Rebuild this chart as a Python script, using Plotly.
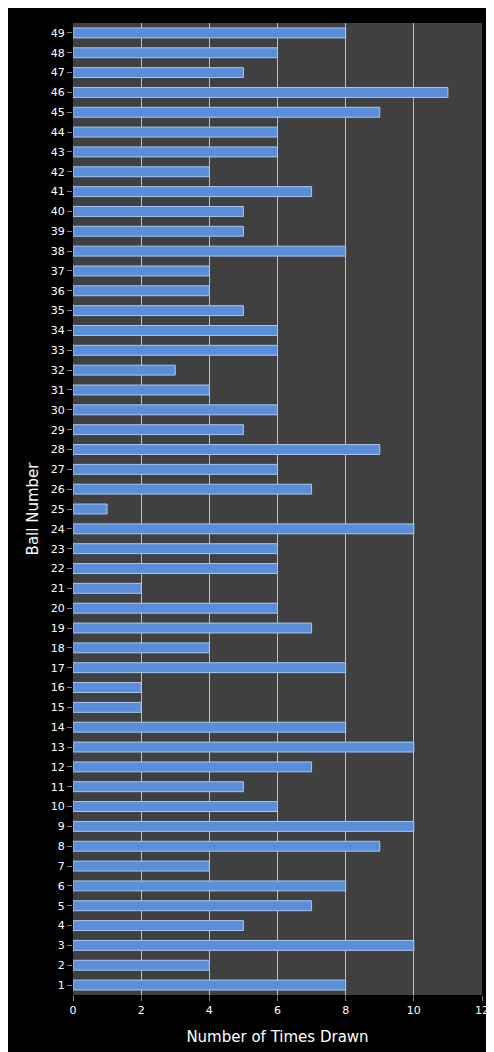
import plotly.graph_objects as go

balls = list(range(1, 50))
times_drawn = [8, 4, 10, 5, 7, 8, 4, 9, 10, 6,
               5, 7, 10, 8, 2, 2, 8, 4, 7, 6,
               2, 6, 6, 10, 1, 7, 6, 9, 5, 6,
               4, 3, 6, 6, 5, 4, 4, 8, 5, 5,
               7, 4, 6, 6, 9, 11, 5, 6, 8]

fig = go.Figure(go.Bar(
    x=times_drawn, y=balls, orientation="h",
    marker=dict(color="#5b8ed8", line=dict(color="#a9c6f0", width=1)),
))

fig.update_layout(
    width=494, height=1052,
    paper_bgcolor="black", plot_bgcolor="#404040",
    margin=dict(l=65, r=20, t=15, b=65),
    bargap=0.5,
    showlegend=False,
    font=dict(family="DejaVu Sans", color="white", size=11),
)
fig.update_xaxes(
    range=[0, 12], dtick=2, showgrid=True, gridcolor="#bfbfbf", gridwidth=1,
    zeroline=False, ticks="outside", tickcolor="#808080",
    title=dict(text="Number of Times Drawn", font=dict(size=15)),
)
fig.update_yaxes(
    range=[0.5, 49.5], dtick=1, showgrid=False, zeroline=False,
    ticks="outside", tickcolor="#808080",
    title=dict(text="Ball Number", font=dict(size=15), standoff=8),
)

fig.write_html("out.html")
